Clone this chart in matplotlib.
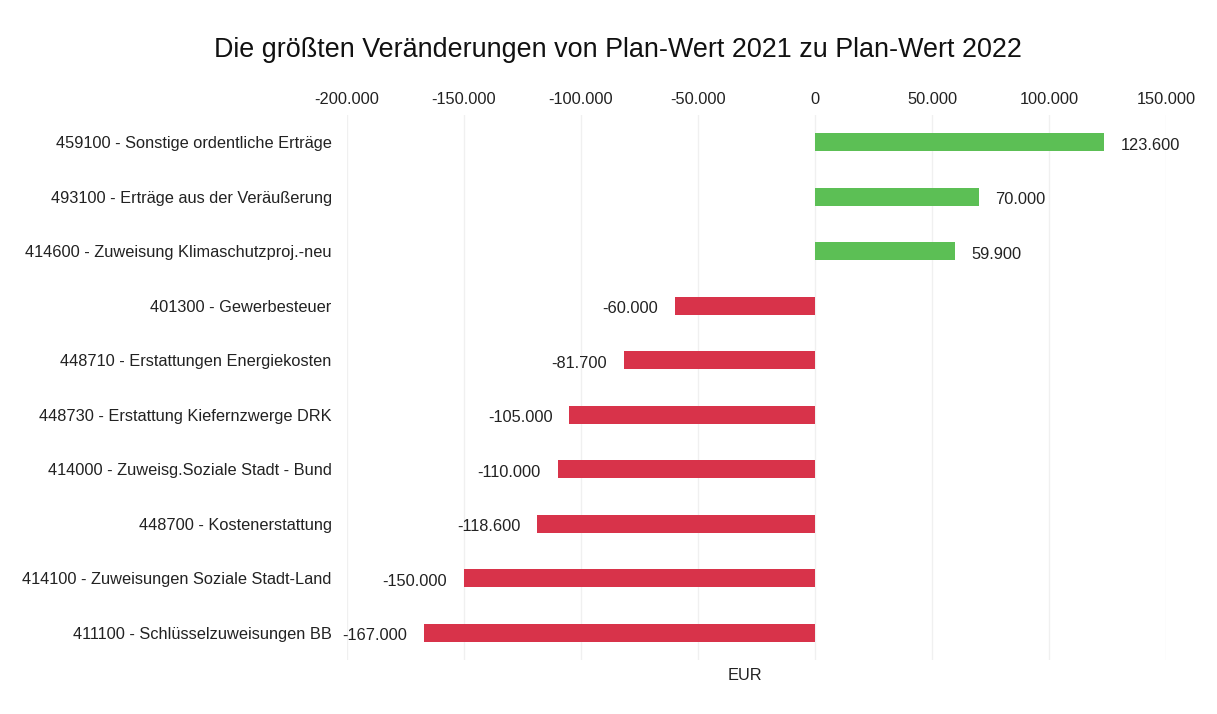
import matplotlib.pyplot as plt
from matplotlib.ticker import FuncFormatter

plt.rcParams['font.family'] = ['Liberation Sans', 'DejaVu Sans']

# Data
categories = [
    '459100 - Sonstige ordentliche Erträge',
    '493100 - Erträge aus der Veräußerung',
    '414600 - Zuweisung Klimaschutzproj.-neu',
    '401300 - Gewerbesteuer',
    '448710 - Erstattungen Energiekosten',
    '448730 - Erstattung Kiefernzwerge DRK',
    '414000 - Zuweisg.Soziale Stadt - Bund',
    '448700 - Kostenerstattung',
    '414100 - Zuweisungen Soziale Stadt-Land',
    '411100 - Schlüsselzuweisungen BB',
]
values = [123600, 70000, 59900, -60000, -81700, -105000, -110000, -118600, -150000, -167000]
ticks = [-200000, -150000, -100000, -50000, 0, 50000, 100000, 150000]


def de_fmt(v, pos=None):
    return f'{v:,.0f}'.replace(',', '.')


fig = plt.figure(figsize=(12.17, 7.14), dpi=100)
ax = fig.add_axes([347 / 1217, 1 - 660 / 714, (1166 - 347) / 1217, (660 - 115) / 714])

colors = ['#5cbf55' if v > 0 else '#d8334a' for v in values]
y = range(len(values))
ax.barh(y, values, height=0.33, color=colors)

for yi, v in zip(y, values):
    off = 12 if v > 0 else -12
    ax.annotate(de_fmt(v), (v, yi), xytext=(off, -2), textcoords='offset points',
                va='center', ha='left' if v > 0 else 'right', fontsize=11.8, color='#222222')

ax.set_xlim(-200000, 150000)
ax.set_ylim(len(values) - 0.5, -0.5)
ax.set_xticks(ticks)
ax.xaxis.set_major_formatter(FuncFormatter(de_fmt))
ax.xaxis.tick_top()
ax.set_yticks(list(y))
ax.set_yticklabels(categories)
ax.tick_params(axis='both', length=0, labelsize=11.8, colors='#222222')
ax.tick_params(axis='x', pad=6)
ax.tick_params(axis='y', pad=11)
ax.grid(axis='x', color='#f0f0f0', linewidth=1)
ax.set_axisbelow(True)
for s in ax.spines.values():
    s.set_visible(False)

fig.suptitle('Die größten Veränderungen von Plan-Wert 2021 zu Plan-Wert 2022',
             x=618 / 1217, y=1 - 50 / 714, va='center', fontsize=19.4, color='#111111')
fig.text(745 / 1217, 1 - 676 / 714, 'EUR', ha='center', va='center', fontsize=11.8, color='#222222')

fig.savefig('out.png', dpi=100)
